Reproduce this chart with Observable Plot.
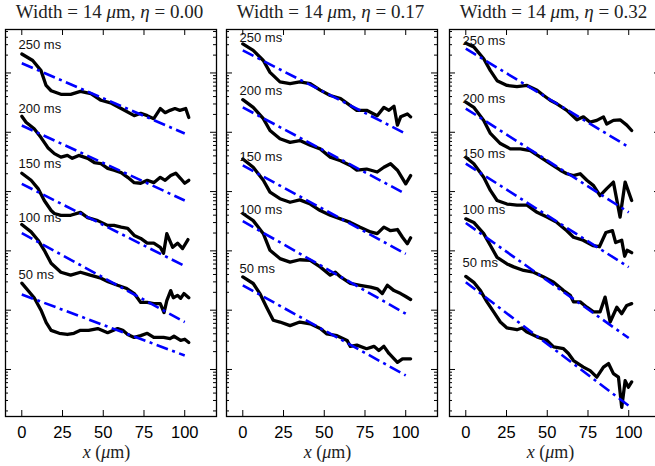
<!DOCTYPE html>
<html><head><meta charset="utf-8">
<script src="https://cdn.jsdelivr.net/npm/d3@7"></script>
<script src="https://cdn.jsdelivr.net/npm/@observablehq/plot@0.6"></script>
<style>
html,body{margin:0;padding:0;background:#fff;overflow:hidden;width:655px;height:466px;}
#wrap{position:relative;width:655px;height:466px;overflow:hidden;background:#fff;}
</style></head><body><div id="wrap"></div>
<script>
// ---- chart values (x in µm, second value = log10 of the plotted intensity) ----
const widthUm = 14;
const etas = ["0.00", "0.17", "0.32"];
const times = [250, 200, 150, 100, 50];
const xTicks = [0, 25, 50, 75, 100];
const labelX = -2;

// Panel 1 (eta = 0.00)
const p1_250 = [[0,5.32],[6.7,5.21],[11.8,5.04],[14.9,4.79],[18,4.70],[24,4.64],[30,4.64],[36,4.69],[42.4,4.65],[48.6,4.54],[55,4.49],[61,4.40],[69,4.28],[73,4.32],[77,4.28],[81,4.23],[85,4.40],[88,4.33],[91,4.37],[94,4.40],[97,4.37],[100.6,4.40],[102.5,4.25]];
const p1_200 = [[0,4.27],[2.6,4.17],[7.6,4.06],[11.8,3.91],[16,3.74],[20,3.64],[24,3.58],[28,3.61],[31,3.56],[35,3.61],[40.5,3.56],[44.5,3.49],[48.6,3.47],[52.7,3.39],[56.6,3.36],[61,3.32],[65,3.24],[69,3.15],[73,3.14],[77,3.19],[81,3.15],[85,3.24],[88,3.19],[91.4,3.27],[94.5,3.31],[97.5,3.22],[100,3.14],[102.5,3.19]];
const p1_150 = [[0,3.31],[5.7,3.19],[10,3.05],[13.8,2.85],[18,2.68],[20,2.63],[24,2.60],[30,2.60],[36,2.65],[40.4,2.56],[46.6,2.51],[52.7,2.43],[56.6,2.43],[61,2.40],[65,2.38],[69,2.26],[73,2.21],[77,2.13],[81,2.13],[85,2.06],[87,1.96],[89,2.29],[92.6,2.06],[95.6,2.13],[98.7,2.04],[102,2.19]];
const p1_100 = [[0,2.445],[5.7,2.32],[10,2.18],[13.8,2.01],[18,1.79],[24,1.64],[30,1.59],[36,1.64],[42,1.59],[48.6,1.54],[53,1.48],[58.8,1.42],[64,1.37],[69,1.28],[73,1.13],[77,1.13],[81,1.11],[85,1.11],[87.3,0.96],[89,1.16],[91.4,1.33],[93,1.21],[95.6,1.25],[97.5,1.20],[99.5,1.28],[102.5,1.21]];
const p1_50 = [[0,1.455],[7.6,1.21],[11.8,1.00],[15,0.79],[18,0.66],[23,0.61],[28,0.59],[32,0.61],[36,0.66],[41,0.66],[46.6,0.69],[52.7,0.62],[58.8,0.69],[62,0.66],[65,0.59],[69,0.54],[73,0.57],[77,0.61],[81,0.54],[87,0.54],[91,0.52],[93.4,0.56],[97.5,0.49],[100,0.51],[102.5,0.455]];
const fit1_250 = [[0,5.165],[100,3.98]];
const fit1_200 = [[0,4.115],[100,2.85]];
const fit1_150 = [[0,3.13],[100,1.744]];
const fit1_100 = [[0,2.30],[100,0.80]];
const fit1_50 = [[0,1.265],[100,0.236]];
const lab1 = [5.48, 4.40, 3.47, 2.55, 1.60];

// Panel 2 (eta = 0.17)
const p2_250 = [[0,5.49],[6.4,5.38],[12.6,5.21],[16.7,5.01],[22.8,4.85],[29,4.82],[35,4.85],[41.4,4.82],[47.5,4.71],[53.7,4.62],[60,4.57],[66,4.45],[70,4.37],[76,4.37],[82.5,4.28],[86.6,4.42],[89.7,4.37],[92.8,4.44],[94.9,4.12],[96.9,4.26],[101,4.31],[103,4.26]];
const p2_200 = [[0,4.55],[6.4,4.42],[12.6,4.23],[16.7,4.03],[22.8,3.89],[29,3.83],[35,3.86],[41.4,3.78],[47.5,3.72],[53.7,3.58],[60,3.52],[66,3.44],[70,3.36],[76,3.38],[82.5,3.33],[86.6,3.41],[90.7,3.47],[94.9,3.36],[100,3.13],[103,3.27]];
const p2_150 = [[0,3.55],[6.4,3.41],[12.6,3.19],[16.7,2.99],[22.8,2.88],[29,2.82],[35,2.86],[41.4,2.79],[47.5,2.68],[53.7,2.60],[60,2.54],[66,2.48],[72,2.40],[78.4,2.32],[82.5,2.29],[86.6,2.40],[90.7,2.34],[94.9,2.36],[98,2.23],[101,2.12],[103,2.22]];
const p2_100 = [[0,2.63],[6.4,2.51],[12.6,2.29],[16.7,2.01],[22.8,1.87],[29,1.81],[35,1.85],[41.4,1.84],[47.5,1.73],[53.7,1.59],[56.8,1.64],[60,1.56],[66,1.45],[72,1.42],[78.4,1.39],[82.5,1.36],[85.6,1.28],[88.7,1.42],[92.8,1.33],[96.9,1.28],[100,1.23],[103,1.18]];
const p2_50 = [[0,1.56],[6.4,1.45],[10.5,1.28],[14.6,1.05],[18.7,0.83],[22.8,0.80],[29,0.74],[35,0.80],[41.4,0.77],[47.5,0.69],[51.6,0.60],[57.8,0.57],[64,0.49],[66,0.39],[70,0.41],[76,0.35],[80.5,0.39],[83.5,0.32],[86.6,0.39],[89.7,0.27],[94.9,0.12],[98,0.18],[103,0.18]];
const fit2_250 = [[0,5.38],[100,3.975]];
const fit2_200 = [[0,4.42],[100,2.96]];
const fit2_150 = [[0,3.44],[100,1.95]];
const fit2_100 = [[0,2.50],[100,0.94]];
const fit2_50 = [[0,1.42],[100,-0.10]];
const lab2 = [5.60, 4.70, 3.59, 2.70, 1.70];

// Panel 3 (eta = 0.32)
const p3_250 = [[0,5.50],[4.9,5.44],[11,5.24],[15.1,5.04],[19.2,4.87],[25.3,4.79],[31.4,4.77],[37.6,4.79],[43.7,4.71],[47.8,4.62],[51.8,4.54],[55.9,4.48],[62,4.37],[68.2,4.21],[72.2,4.26],[76.3,4.17],[80.4,4.20],[84.5,4.26],[86.5,4.14],[90.6,4.20],[94.7,4.21],[98.8,4.12],[101.8,4.03]];
const p3_200 = [[0,4.51],[4.9,4.42],[11,4.20],[15.1,3.98],[21.2,3.81],[27.3,3.72],[33.5,3.72],[39.6,3.69],[45.7,3.58],[51.8,3.47],[58,3.36],[62,3.30],[66.1,3.27],[70.2,3.30],[74.3,3.19],[78.4,3.10],[82.4,2.93],[86.5,3.05],[90.6,3.16],[94.7,2.57],[97.8,3.16],[101.8,2.85]];
const p3_150 = [[0,3.58],[4.9,3.47],[11,3.24],[15.1,3.02],[19.2,2.85],[25.3,2.79],[31.4,2.77],[37.6,2.77],[43.7,2.65],[49.8,2.57],[55.9,2.48],[62,2.34],[66.1,2.23],[72,2.18],[78,2.09],[82,2.07],[86,2.31],[90,2.34],[92,2.14],[95.7,2.18],[97.5,1.91],[99,2.01],[101.8,1.97]];
const p3_100 = [[0,2.54],[4.9,2.48],[11,2.29],[15.1,2.09],[19.2,1.89],[25.3,1.78],[29.4,1.73],[35.5,1.67],[41.6,1.64],[47.8,1.56],[53.9,1.47],[60,1.33],[64.1,1.25],[66.1,1.14],[70.2,1.14],[74.3,1.05],[78.4,0.97],[82.4,0.97],[85.5,1.22],[88.6,0.80],[92.7,1.05],[95.7,0.94],[98.8,1.08],[101.8,1.11]];
const p3_50 = [[0,1.57],[4.9,1.47],[9,1.33],[13,1.14],[17.1,0.97],[21.2,0.80],[25.3,0.70],[31.4,0.67],[34.5,0.70],[37.6,0.63],[43.7,0.55],[49.8,0.49],[53.9,0.38],[60,0.35],[63,0.27],[66.1,0.15],[72.2,0.04],[76.3,-0.02],[80.4,-0.13],[84.5,0.04],[87.6,0.10],[90.6,-0.07],[93.7,-0.13],[95.7,-0.64],[97.8,-0.19],[99.8,-0.30],[101.8,-0.21]];
const fit3_250 = [[0,5.41],[100,3.75]];
const fit3_200 = [[0,4.40],[100,2.65]];
const fit3_150 = [[0,3.47],[100,1.725]];
const fit3_100 = [[0,2.47],[100,0.53]];
const fit3_50 = [[0,1.47],[100,-0.61]];
const lab3 = [5.55, 4.57, 3.64, 2.70, 1.79];

const panels = [
  {eta: etas[0], curves: [p1_250, p1_200, p1_150, p1_100, p1_50], fits: [fit1_250, fit1_200, fit1_150, fit1_100, fit1_50], labels: lab1, left: 0},
  {eta: etas[1], curves: [p2_250, p2_200, p2_150, p2_100, p2_50], fits: [fit2_250, fit2_200, fit2_150, fit2_100, fit2_50], labels: lab2, left: 221},
  {eta: etas[2], curves: [p3_250, p3_200, p3_150, p3_100, p3_50], fits: [fit3_250, fit3_200, fit3_150, fit3_100, fit3_50], labels: lab3, left: 444}
];

// log-axis tick values
const majorY = [1, 10, 100, 1e3, 1e4, 1e5];
const yDomain = [10 ** -0.793, 10 ** 5.733];
const minorY = [];
for (let k = -1; k <= 5; k++) for (let m = 2; m <= 9; m++) {
  const v = m * 10 ** k;
  if (v >= yDomain[0] && v <= yDomain[1]) minorY.push(v);
}

const W = 221, H = 466, mt = 29, mb = 50, ml = 5, mr = 5;
const frameW = W - ml - mr, frameH = H - mt - mb;
const sans = "'Liberation Sans', Arial, Helvetica, sans-serif";
const serif = "'Liberation Serif', 'Times New Roman', serif";

const wrap = document.getElementById("wrap");
for (const P of panels) {
  const lines = P.curves.flatMap((c, i) => c.map(([x, ly]) => ({t: times[i], x, ly})));
  const fits = P.fits.flatMap((c, i) => c.map(([x, ly]) => ({t: times[i], x, ly})));
  const labs = P.labels.map((ly, i) => ({t: times[i], x: labelX, ly}));
  const chart = Plot.plot({
    width: W, height: H,
    marginTop: mt, marginBottom: mb, marginLeft: ml, marginRight: mr,
    style: {fontFamily: sans, fontSize: "16px", background: "white", color: "black", overflow: "visible"},
    x: {domain: [-10, 119.5], axis: null},
    y: {type: "log", domain: yDomain, axis: null},
    marks: [
      Plot.line(lines, {x: "x", y: d => 10 ** d.ly, z: "t", stroke: "black", strokeWidth: 3.3, strokeLinejoin: "round", strokeLinecap: "round"}),
      Plot.line(fits, {x: "x", y: d => 10 ** d.ly, z: "t", stroke: "#0000ff", strokeWidth: 2.6, strokeLinecap: "butt", strokeDasharray: "12,4.5,3,4.5"}),
      Plot.text(labs, {x: "x", y: d => 10 ** d.ly, text: d => `${d.t} ms`, textAnchor: "start", fontSize: 13, fontFamily: sans, fill: "#111"}),
      Plot.tickY(majorY, {insetRight: frameW - 6, stroke: "black"}),
      Plot.tickY(majorY, {insetLeft: frameW - 6, stroke: "black"}),
      Plot.tickY(minorY, {insetRight: frameW - 3, stroke: "black"}),
      Plot.tickY(minorY, {insetLeft: frameW - 3, stroke: "black"}),
      Plot.tickX(xTicks, {insetTop: frameH - 6, stroke: "black"}),
      Plot.tickX(xTicks, {insetBottom: frameH - 6, stroke: "black"}),
      Plot.axisX(xTicks, {tickSize: 0, tickPadding: 10, label: null, fontSize: 16.5, fontFamily: sans}),
      Plot.frame({stroke: "black", strokeWidth: 1.3})
    ]
  });
  chart.style.position = "absolute";
  chart.style.left = P.left + "px";
  chart.style.top = "0px";
  const svg = d3.select(chart);
  const cx = ml + frameW / 2;
  const t = svg.append("text").attr("x", cx - 1).attr("y", 18).attr("text-anchor", "middle")
    .style("font-family", serif).style("font-size", "19px").attr("fill", "#222");
  t.append("tspan").text(`Width = ${widthUm} `);
  t.append("tspan").style("font-style", "italic").text("μ");
  t.append("tspan").text("m, ");
  t.append("tspan").style("font-style", "italic").text("η");
  t.append("tspan").text(` = ${P.eta}`);
  const xl = svg.append("text").attr("x", cx - 4).attr("y", 458).attr("text-anchor", "middle")
    .style("font-family", serif).style("font-size", "18px").attr("fill", "#222");
  xl.append("tspan").style("font-style", "italic").text("x");
  xl.append("tspan").text(" (");
  xl.append("tspan").style("font-style", "italic").text("μ");
  xl.append("tspan").text("m)");
  wrap.appendChild(chart);
}
</script></body></html>
